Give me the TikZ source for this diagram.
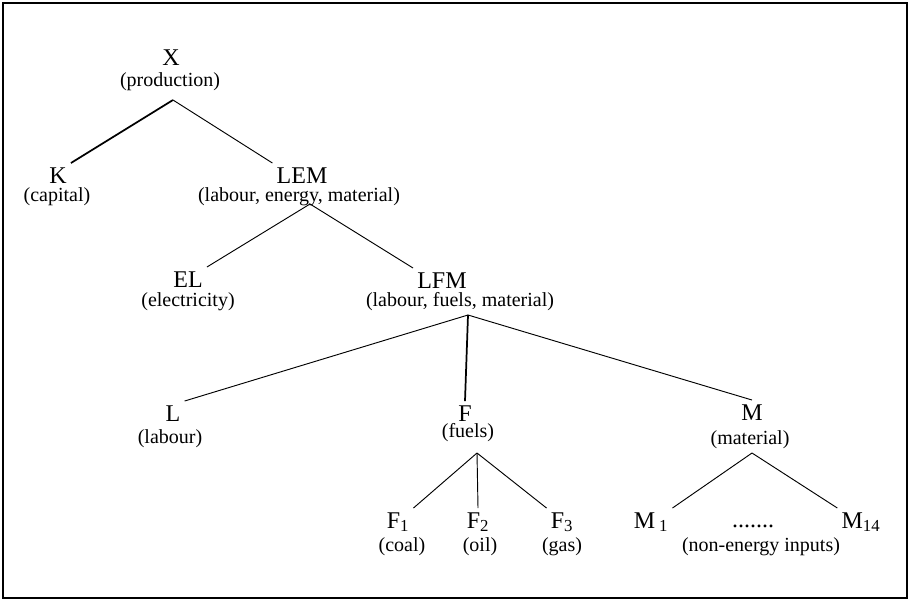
\documentclass[tikz,border=0pt]{standalone}
\usepackage{fontspec}
\setmainfont{Liberation Serif}

\begin{document}
\begin{tikzpicture}[x=0.75pt,y=-0.75pt,
  term/.style={font=\fontsize{18}{20}\selectfont,anchor=base,inner sep=3pt},
  note/.style={font=\fontsize{15}{17}\selectfont,anchor=base,inner sep=1pt},
  branch/.style={line width=0.7pt},
  trunk/.style={line width=1.3pt}]
\useasboundingbox (0,0) rectangle (909,600);
\draw[line width=1.5pt] (2.5,2.5) rectangle (906.5,597.5);

% production
\node[term] (X) at (171,65) {X};
\node[note] (Xd) at (170,86) {(production)};
\coordinate (xfork) at (173,100);

% capital and labour-energy-material
\node[term] (K) at (58,183) {K};
\node[note] (Kd) at (57,201) {(capital)};
\node[term] (LEM) at (302,183) {LEM};
\node[note] (LEMd) at (299,201) {(labour, energy, material)};
\coordinate (lemfork) at (310,204);

% electricity and labour-fuels-material
\node[term] (EL) at (188,287) {EL};
\node[note] (ELd) at (188,306) {(electricity)};
\node[term] (LFM) at (442,288) {LFM};
\node[note] (LFMd) at (460,306) {(labour, fuels, material)};
\coordinate (lfmfork) at (468,315);

% labour, fuels, material
\node[term] (L) at (173,421) {L};
\node[note] (Ld) at (170,443) {(labour)};
\node[term] (F) at (465,421) {F};
\node[note] (Fd) at (468,437) {(fuels)};
\coordinate (ffork) at (477,453);
\node[term] (M) at (752,420) {M};
\node[note] (Md) at (750,444) {(material)};
\coordinate (mfork) at (752,453);

% fuels
\node[term] (F1) at (398,528) {F\textsubscript{1}};
\node[note] (F1d) at (402,551) {(coal)};
\node[term] (F2) at (478,528) {F\textsubscript{2}};
\node[note] (F2d) at (480,551) {(oil)};
\node[term] (F3) at (562,528) {F\textsubscript{3}};
\node[note] (F3d) at (562,551) {(gas)};

% materials
\node[term] (M1) at (651,528) {M\,\textsubscript{1}};
\node[term] (Mdots) at (753,527) {.......};
\node[term] (M14) at (861,528) {M\textsubscript{14}};
\node[note] (Mid) at (761,551) {(non-energy inputs)};

% branches
\draw[trunk] (xfork) -- (K.north east);
\draw[branch] (xfork) -- (LEM.north west);
\draw[branch] (lemfork) -- (EL.north east);
\draw[branch] (lemfork) -- (LFM.north west);
\draw[branch] (lfmfork) -- (L.north east);
\draw[trunk] (lfmfork) -- (F.north);
\draw[branch] (lfmfork) -- (M.north);
\draw[branch] (ffork) -- (F1.north east);
\draw[branch] (ffork) -- (F2.north);
\draw[branch] (ffork) -- (F3.north west);
\draw[branch] (mfork) -- (M1.north east);
\draw[branch] (mfork) -- (M14.north west);
\end{tikzpicture}
\end{document}
